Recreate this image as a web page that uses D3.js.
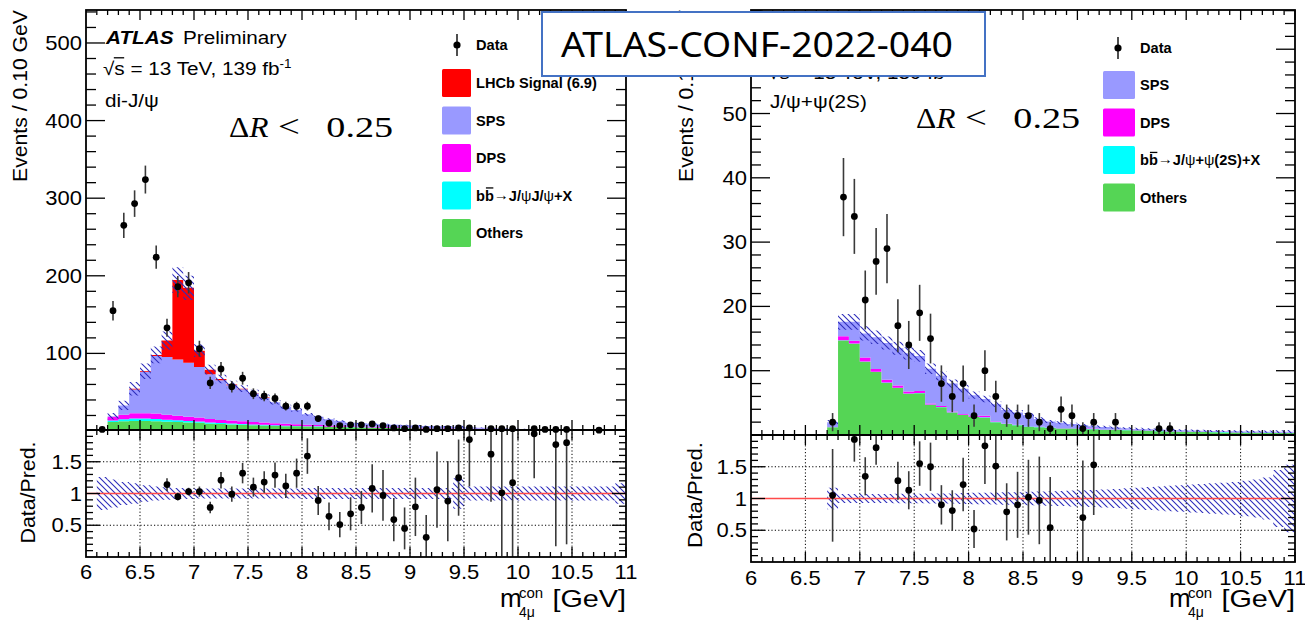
<!DOCTYPE html>
<html>
<head>
<meta charset="utf-8">
<script src="https://cdn.jsdelivr.net/npm/d3@7"></script>
<style>
  body { margin: 0; background: #fff; }
  svg { display: block; }
  text { font-family: "Liberation Sans", Arial, sans-serif; fill: #000; white-space: pre; }
</style>
</head>
<body>
<svg id="chart" width="1305" height="621"></svg>
<script>
// ---- di-J/psi (left) : MC stack, 0.1 GeV bins starting at 6.1 ----
const leftStart = 6.1;
const leftOthers = [0.3, 11.5, 12.5, 13, 13, 12.5, 12, 11.5, 11, 10.5, 9.5, 9, 8.5, 8, 7.5, 7, 6.5, 6.2, 6, 5.7, 5.5, 5.2, 5, 4.8, 4.5, 4.2, 4, 3.8, 3.6, 3.4, 3.2, 3, 2.9, 2.8, 2.7, 2.6, 2.5, 2.3, 2.1, 1.9, 1.7, 1.6, 1.5, 1.4, 1.3, 1.2, 1.15, 1.1, 1.05];
const leftBB = [0, 2, 2.5, 3, 3, 3, 2.5, 2.2, 2, 1.8, 1.5, 1.3, 1.2, 1, 1, 0.9, 0.8, 0.7, 0.6, 0.5, 0.5, 0.4, 0.4, 0.3, 0.3, 0.3, 0.2, 0.2, 0.2, 0.2, 0.1, 0.1, 0.1, 0.1, 0.1, 0.1, 0.1, 0.1, 0.1, 0.1, 0.1, 0.1, 0.1, 0.1, 0.1, 0.1, 0.1, 0.1, 0.1];
const leftDPS = [0, 5, 6, 7, 7, 7, 6.5, 6, 5.5, 5, 4.5, 4, 3.8, 3.5, 3.2, 3, 2.7, 2.5, 2.2, 2, 1.7, 1.5, 1.3, 1.1, 1, 0.9, 0.8, 0.7, 0.6, 0.6, 0.5, 0.5, 0.4, 0.4, 0.4, 0.3, 0.3, 0.3, 0.3, 0.3, 0.2, 0.2, 0.2, 0.2, 0.2, 0.2, 0.2, 0.2, 0.2];
const leftSPS = [0.2, 0.5, 12, 30.5, 53, 74, 74.5, 72.3, 69.5, 65.2, 57.5, 51.2, 45.5, 41.2, 36.9, 32.1, 27, 21.9, 18.2, 13.3, 10.8, 7.9, 6.2, 4.5, 4.1, 3.8, 3.6, 3.3, 3.1, 2.8, 2.8, 2.6, 2.4, 2.1, 1.3, 1.1, 0.8, 0.6, 0.5, 0.4, 0.4, 0.3, 0.2, 0.2, 0.2, 0.2, 0.15, 0.15, 0.15];
const leftSignal = [0, 0, 0, 0.8, 1, 1.5, 21, 102.5, 96.5, 21, 6, 1.5, 1, 0.8, 0.5, 0.5, 0, 0, 0, 0, 0, 0, 0, 0, 0, 0, 0, 0, 0, 0, 0, 0, 0, 0, 0, 0, 0, 0, 0, 0, 0, 0, 0, 0, 0, 0, 0, 0, 0];
const leftBand = [0.26, 0.22, 0.18, 0.16, 0.13, 0.11, 0.1, 0.085, 0.085, 0.08, 0.08, 0.08, 0.08, 0.08, 0.08, 0.08, 0.08, 0.08, 0.08, 0.085, 0.085, 0.085, 0.085, 0.085, 0.085, 0.085, 0.085, 0.085, 0.085, 0.085, 0.085, 0.085, 0.085, 0.24, 0.11, 0.11, 0.11, 0.11, 0.11, 0.11, 0.11, 0.11, 0.11, 0.11, 0.11, 0.11, 0.11, 0.11, 0.16];

const leftMass = [6.15, 6.25, 6.35, 6.45, 6.55, 6.65, 6.75, 6.85, 6.95, 7.05, 7.15, 7.25, 7.35, 7.45, 7.55, 7.65, 7.75, 7.85, 7.95, 8.05, 8.15, 8.25, 8.35, 8.45, 8.55, 8.65, 8.75, 8.85, 8.95, 9.05, 9.15, 9.25, 9.35, 9.45, 9.55, 9.75, 9.85, 9.95, 10.15, 10.25, 10.35, 10.45, 10.75];
const leftCounts = [2, 155, 265, 293, 324, 224, 133, 186, 191, 106, 62, 80, 57, 68, 48, 45, 42, 32, 32, 32, 16, 10, 7, 8, 8, 9, 7, 4, 3, 4, 2, 3, 3, 4, 4, 3, 3, 3, 3, 2, 2, 2, 1];

const leftRatioMass = [6.75, 6.85, 6.95, 7.05, 7.15, 7.25, 7.35, 7.45, 7.55, 7.65, 7.75, 7.85, 7.95, 8.05, 8.15, 8.25, 8.35, 8.45, 8.55, 8.65, 8.75, 8.85, 8.95, 9.05, 9.15, 9.25, 9.35, 9.45, 9.55, 9.75, 9.85, 9.95, 10.15, 10.35, 10.45];
const leftRatioVal = [1.14, 0.95, 1.03, 1.03, 0.78, 1.21, 0.99, 1.32, 1.10, 1.18, 1.29, 1.12, 1.32, 1.59, 0.89, 0.64, 0.51, 0.68, 0.78, 1.08, 0.97, 0.59, 0.45, 0.79, 0.31, 1.06, 0.88, 1.25, 1.85, 1.62, 1.01, 1.17, 1.94, 1.77, 1.80];
const leftRatioErr = [0.1, 0.06, 0.06, 0.08, 0.09, 0.13, 0.12, 0.16, 0.15, 0.17, 0.2, 0.19, 0.23, 0.28, 0.23, 0.22, 0.2, 0.26, 0.26, 0.38, 0.4, 0.34, 0.33, 0.46, 0.35, 0.6, 0.63, 0.6, 0.74, 0.75, 1.0, 1.2, 0.7, 1.6, 1.6];

// ---- J/psi + psi(2S) (right) : MC stack starting at 6.7 ----
const rightStart = 6.7;
const rightOthers = [1.2, 14.7, 14.2, 11.4, 9.8, 8.1, 7.3, 6.4, 6.5, 4.7, 4.3, 3.5, 3.1, 2.8, 2.7, 2.0, 1.7, 1.5, 1.3, 1.2, 1.1, 1.0, 1.0, 0.9, 0.9, 0.8, 0.8, 0.75, 0.7, 0.65, 0.6, 0.55, 0.5, 0.5, 0.45, 0.42, 0.4, 0.38, 0.36, 0.34, 0.32, 0.3, 0.3];
const rightBB = [0, 0.05, 0.05, 0.05, 0.05, 0.05, 0.05, 0.05, 0.05, 0.05, 0.05, 0.05, 0.05, 0.05, 0.05, 0.05, 0.05, 0.05, 0.05, 0.05, 0.05, 0.05, 0.05, 0.05, 0.05, 0.05, 0.05, 0.05, 0.05, 0.05, 0.05, 0.05, 0.05, 0.05, 0.05, 0.05, 0.05, 0.05, 0.05, 0.05, 0.05, 0.05, 0.05];
const rightDPS = [0, 0.6, 0.4, 0.6, 0.4, 0.45, 0.35, 0.3, 0.3, 0.15, 0.15, 0.1, 0.1, 0.15, 0.25, 0.1, 0.05, 0.05, 0.05, 0.05, 0.05, 0.05, 0.05, 0.05, 0.05, 0.05, 0.05, 0.05, 0.05, 0.05, 0.05, 0.05, 0.05, 0.05, 0.05, 0.05, 0.05, 0.05, 0.05, 0.05, 0.05, 0.05, 0.05];
const rightSPS = [0.8, 2.25, 2.95, 3.75, 4.95, 5.7, 5.8, 5.95, 5.45, 5.4, 4.7, 4.35, 3.95, 3.2, 2.6, 2.65, 2.1, 1.9, 1.7, 1.2, 0.9, 0.8, 0.6, 0.5, 0.35, 0.35, 0.25, 0.2, 0.15, 0.15, 0.15, 0.15, 0.15, 0.1, 0.1, 0.1, 0.1, 0.1, 0.1, 0.1, 0.1, 0.1, 0.1];
const rightBand = [0.17, 0.07, 0.07, 0.07, 0.07, 0.07, 0.075, 0.075, 0.075, 0.08, 0.08, 0.08, 0.085, 0.09, 0.09, 0.095, 0.1, 0.1, 0.105, 0.11, 0.115, 0.12, 0.125, 0.13, 0.135, 0.14, 0.15, 0.16, 0.17, 0.18, 0.19, 0.2, 0.21, 0.22, 0.23, 0.24, 0.25, 0.26, 0.28, 0.3, 0.33, 0.45, 0.53];

const rightMass = [6.75, 6.85, 6.95, 7.05, 7.15, 7.25, 7.35, 7.45, 7.55, 7.65, 7.75, 7.85, 7.95, 8.05, 8.15, 8.25, 8.35, 8.45, 8.55, 8.65, 8.75, 8.85, 8.95, 9.05, 9.15, 9.35, 9.75, 9.85];
const rightCounts = [2, 37, 34, 21, 27, 29, 17, 14, 19, 15, 8, 6, 8, 3, 10, 6, 3, 3, 3, 2, 1, 4, 3, 1, 2, 2, 1, 1];

const rightRatioMass = [6.75, 6.95, 7.05, 7.15, 7.35, 7.45, 7.55, 7.65, 7.75, 7.85, 7.95, 8.05, 8.15, 8.25, 8.35, 8.45, 8.55, 8.65, 8.75, 9.05, 9.15];
const rightRatioVal = [1.05, 1.93, 1.35, 1.80, 1.28, 1.13, 1.55, 1.50, 0.90, 0.81, 1.22, 0.52, 1.83, 1.51, 0.79, 0.90, 1.02, 0.97, 0.54, 0.70, 1.53];
const rightRatioErr = [0.73, 0.35, 0.3, 0.27, 0.3, 0.3, 0.35, 0.38, 0.31, 0.32, 0.42, 0.3, 0.6, 0.54, 0.45, 0.52, 0.59, 0.69, 0.8, 0.9, 0.79];

const upperTicksLeft = [100, 200, 300, 400, 500];
const upperTicksRight = [10, 20, 30, 40, 50, 60];
const ratioTicks = [0.5, 1, 1.5];
const xTicks = [6, 6.5, 7, 7.5, 8, 8.5, 9, 9.5, 10, 10.5, 11];

const colors = {
  others: "#55d555",
  bb: "#00ffff",
  dps: "#ff00ff",
  sps: "#9999ff",
  signal: "#ff0000"
};

const svg = d3.select("#chart");
const defs = svg.append("defs");
defs.append("pattern")
  .attr("id", "hatch")
  .attr("patternUnits", "userSpaceOnUse")
  .attr("width", 6)
  .attr("height", 6)
  .append("path")
  .attr("d", "M-1,-1L7,7M-1,5L1,7M5,-1L7,1")
  .attr("stroke", "#2d2dbb")
  .attr("stroke-width", 1.1);

const SX = 1.1; // the picture's text is a bit wider than it is tall

function line(g, x1, y1, x2, y2, w = 1.3, color = "#000") {
  return g.append("line")
    .attr("x1", x1).attr("y1", y1).attr("x2", x2).attr("y2", y2)
    .attr("stroke", color).attr("stroke-width", w);
}

function label(g, x, y, str, opt = {}) {
  return g.append("text")
    .attr("transform", `translate(${x},${y}) scale(${opt.sx || 1},1)`)
    .attr("text-anchor", opt.anchor || "start")
    .attr("font-size", opt.size || 20)
    .attr("font-weight", opt.bold ? 700 : 400)
    .attr("font-style", opt.italic ? "italic" : "normal")
    .style("font-family", opt.family || null)
    .text(str);
}

// pieces of text placed one after another, measured as they go
function rich(parent, x, y, segs, opt = {}) {
  const g = parent.append("g").attr("transform", `translate(${x},${y}) scale(${opt.sx || 1},1)`);
  let cx = 0;
  segs.forEach((s) => {
    const size = s.size || opt.size || 15;
    const t = g.append("text")
      .attr("x", cx)
      .attr("y", s.dy || 0)
      .attr("font-size", size)
      .attr("font-weight", (s.bold !== undefined ? s.bold : opt.bold) ? 700 : 400)
      .attr("fill", s.fill || "#000")
      .text(s.t);
    const w = t.node().getComputedTextLength();
    if (s.over) {
      const oy = -size * (s.overY || 0.86);
      line(g, cx + (s.overFrom || 1), oy, cx + w - 0.5, oy, 1.3);
    }
    cx += w;
  });
  return g;
}

function drawPanel(p) {
  const g = svg.append("g");
  const x = d3.scaleLinear().domain([6, 11]).range([p.x0, p.x1]);
  const y = d3.scaleLinear().domain([0, p.yMax]).range([p.yZero, p.top]);
  const r = d3.scaleLinear().domain([0, 2]).range([p.bottom, p.mid]);

  const upId = "up" + p.id, rId = "rat" + p.id;
  defs.append("clipPath").attr("id", upId).append("rect")
    .attr("x", p.x0).attr("y", p.top).attr("width", p.x1 - p.x0).attr("height", p.mid - p.top);
  defs.append("clipPath").attr("id", rId).append("rect")
    .attr("x", p.x0).attr("y", p.mid).attr("width", p.x1 - p.x0).attr("height", p.bottom - p.mid);

  const up = g.append("g").attr("clip-path", `url(#${upId})`);
  const low = g.append("g").attr("clip-path", `url(#${rId})`);

  // stacked MC
  const keys = ["others", "bb", "dps", "sps", "signal"];
  const rows = p.others.map((v, i) => ({
    lo: +(p.start + i * 0.1).toFixed(2),
    others: v,
    bb: p.bb[i],
    dps: p.dps[i],
    sps: p.sps[i],
    signal: p.signal ? p.signal[i] : 0,
    band: p.band[i]
  }));
  rows.push(Object.assign({}, rows[rows.length - 1], { lo: 11 }));
  const series = d3.stack().keys(keys)(rows);
  const area = d3.area()
    .curve(d3.curveStepAfter)
    .x((d) => x(d.data.lo))
    .y0((d) => y(d[0]))
    .y1((d) => y(d[1]));
  up.selectAll("path.stack")
    .data(series)
    .join("path")
    .attr("class", "stack")
    .attr("fill", (d) => colors[d.key])
    .attr("d", area);

  const total = (d) => keys.reduce((s, k) => s + d[k], 0);
  up.append("path")
    .datum(rows)
    .attr("fill", "url(#hatch)")
    .attr("d", d3.area().curve(d3.curveStepAfter)
      .x((d) => x(d.lo))
      .y0((d) => y(total(d) * (1 - d.band)))
      .y1((d) => y(total(d) * (1 + d.band))));

  // ratio pad: band, grid, unity line
  low.append("path")
    .datum(rows)
    .attr("fill", "url(#hatch)")
    .attr("d", d3.area().curve(d3.curveStepAfter)
      .x((d) => x(d.lo))
      .y0((d) => r(1 - d.band))
      .y1((d) => r(1 + d.band)));
  xTicks.slice(1, -1).forEach((v) => {
    line(low, x(v), p.mid, x(v), p.bottom, 1, "#000").attr("stroke-dasharray", "1.2,2.2");
  });
  [0.5, 1.5].forEach((v) => {
    line(low, p.x0, r(v), p.x1, r(v), 1, "#000").attr("stroke-dasharray", "1.2,2.2");
  });
  line(low, p.x0, r(1), p.x1, r(1), 1.6, "#ff4a4a");

  // data points
  const pts = p.mass.map((m, i) => ({ m, n: p.counts[i] }));
  up.selectAll("line.err").data(pts).join("line")
    .attr("class", "err")
    .attr("x1", (d) => x(d.m)).attr("x2", (d) => x(d.m))
    .attr("y1", (d) => y(d.n + Math.sqrt(d.n))).attr("y2", (d) => y(Math.max(0, d.n - Math.sqrt(d.n))))
    .attr("stroke", "#3a3a3a").attr("stroke-width", 1.6);
  g.selectAll("circle.pt").data(pts).join("circle")
    .attr("class", "pt")
    .attr("cx", (d) => x(d.m)).attr("cy", (d) => y(d.n))
    .attr("r", 3.4).attr("fill", "#000");

  const rpts = p.rMass.map((m, i) => ({ m, v: p.rVal[i], e: p.rErr[i] }));
  low.selectAll("line.rerr").data(rpts).join("line")
    .attr("class", "rerr")
    .attr("x1", (d) => x(d.m)).attr("x2", (d) => x(d.m))
    .attr("y1", (d) => r(d.v + d.e)).attr("y2", (d) => r(d.v - d.e))
    .attr("stroke", "#3a3a3a").attr("stroke-width", 1.6);
  low.selectAll("circle.rpt").data(rpts).join("circle")
    .attr("class", "rpt")
    .attr("cx", (d) => x(d.m)).attr("cy", (d) => r(d.v))
    .attr("r", 3.4).attr("fill", "#000");

  // ticks
  const ax = g.append("g");
  const minorX = d3.range(61, 111).map((v) => v / 10);
  minorX.forEach((v) => {
    const major = Math.abs(v * 2 - Math.round(v * 2)) < 1e-6;
    const L = major ? 10 : 5;
    line(ax, x(v), p.top, x(v), p.top + L);
    line(ax, x(v), p.mid, x(v), p.mid - L);
    line(ax, x(v), p.mid, x(v), p.mid + L);
    line(ax, x(v), p.bottom, x(v), p.bottom - L);
  });
  d3.range(p.yMinor, p.yMax, p.yMinor).forEach((v) => {
    const major = p.yMajor.includes(Math.round(v * 100) / 100);
    const L = major ? 19 : 10;
    line(ax, p.x0, y(v), p.x0 + L, y(v));
    line(ax, p.x1, y(v), p.x1 - L, y(v));
  });
  d3.range(1, 20).map((v) => v / 10).forEach((v) => {
    const major = ratioTicks.includes(v);
    const L = major ? 14 : 7;
    line(ax, p.x0, r(v), p.x0 + L, r(v));
    line(ax, p.x1, r(v), p.x1 - L, r(v));
  });

  // frame
  g.append("rect")
    .attr("x", p.x0).attr("y", p.top)
    .attr("width", p.x1 - p.x0).attr("height", p.bottom - p.top)
    .attr("fill", "none").attr("stroke", "#000").attr("stroke-width", 1.8);
  line(g, p.x0, p.mid, p.x1, p.mid, 1.8);

  // tick labels (a label hidden under the note tag is left out)
  p.yMajor.filter((v) => v <= p.labelMax)
    .forEach((v) => label(g, p.x0 - 4, y(v) + 7, String(v), { anchor: "end", size: 20, sx: SX }));
  ratioTicks.forEach((v) => label(g, p.x0 - 4, r(v) + 7, String(v), { anchor: "end", size: 20, sx: SX }));
  xTicks.forEach((v) => label(g, x(v), p.xLabelY, String(v), { anchor: "middle", size: 20, sx: SX }));

  // axis titles
  g.append("text")
    .attr("transform", `translate(${p.evX},96) rotate(-90)`)
    .attr("text-anchor", "middle")
    .attr("font-size", 21)
    .attr("textLength", 172).attr("lengthAdjust", "spacingAndGlyphs")
    .text("Events / 0.10 GeV");
  g.append("text")
    .attr("transform", `translate(${p.dpX},${p.dpY}) rotate(-90)`)
    .attr("text-anchor", "middle")
    .attr("font-size", 21)
    .attr("textLength", p.dpLen).attr("lengthAdjust", "spacingAndGlyphs")
    .text("Data/Pred.");
  label(g, p.x1 - 126, 607, "m", { size: 26 });
  label(g, p.x1 - 107, 598, "con", { size: 15 });
  label(g, p.x1 - 107, 617, "4\u03bc", { size: 14 });
  label(g, p.x1, 607, "[GeV]", { anchor: "end", size: 24, sx: 1.2 });

  // ATLAS labels
  const tx = p.x0 + 20;
  if (p.atlas) {
    label(g, tx, 44, "ATLAS", { size: 18.5, bold: true, italic: true, sx: 1.12 });
    label(g, tx + 77, 44, "Preliminary", { size: 18.5, sx: 1.12 });
  }
  rich(g, tx - 3, p.sqrtY, [
    { t: "\u221a" },
    { t: "s", over: true, overFrom: -0.5, overY: 0.93 },
    { t: " = 13 TeV, 139 fb" },
    { t: "-1", size: 12, dy: -7 }
  ], { size: 18.5, sx: 1.12 });
  label(g, tx - 1, p.chanY, p.channel, { size: 18.5, sx: 1.12 });

  // Delta R < 0.25
  const serif = "'Liberation Serif', 'DejaVu Serif', serif";
  const t1 = g.append("text")
    .attr("transform", `translate(${p.drX},${p.drY}) scale(1.05,1)`)
    .attr("font-size", 30)
    .style("font-family", serif);
  t1.append("tspan").text("\u0394");
  t1.append("tspan").attr("font-style", "italic").text("R");
  label(g, p.drX + 49, p.drY, "<", { size: 31, sx: 1.25, family: serif });
  label(g, p.drX + 164, p.drY, "0.25", { size: 30, sx: 1.27, anchor: "end", family: serif });

  // legend
  const lg = g.append("g");
  line(lg, p.legX, p.legDataY - 11, p.legX, p.legDataY + 11, 1.6, "#222");
  lg.append("circle").attr("cx", p.legX).attr("cy", p.legDataY).attr("r", 3.6).attr("fill", "#000");
  label(lg, p.legTextX, p.legDataY + 5, "Data", { size: 14.6, bold: true });
  p.legend.forEach((e, i) => {
    const top = p.legBoxY + i * 37.5;
    lg.append("rect")
      .attr("x", p.legBoxX).attr("y", top)
      .attr("width", p.legBoxW).attr("height", 28)
      .attr("rx", 1.5)
      .attr("fill", colors[e.key]);
    if (e.segs) {
      rich(lg, p.legTextX, top + 19, e.segs, { size: 14.6, bold: true });
    } else {
      label(lg, p.legTextX, top + 19, e.text, { size: 14.6, bold: true });
    }
  });
}

const arrowSeg = { t: "\u2192", bold: false, fill: "#444", size: 15, dy: -1 };

drawPanel({
  id: "L", x0: 86, x1: 626, top: 10, mid: 430, bottom: 557,
  yZero: 431, yMax: 542.5, yMajor: upperTicksLeft, yMinor: 20, labelMax: 500,
  start: leftStart, others: leftOthers, bb: leftBB, dps: leftDPS, sps: leftSPS, signal: leftSignal, band: leftBand,
  mass: leftMass, counts: leftCounts,
  rMass: leftRatioMass, rVal: leftRatioVal, rErr: leftRatioErr,
  xLabelY: 579, evX: 26.5, dpX: 35, dpY: 492.5, dpLen: 102,
  atlas: true, sqrtY: 75, chanY: 107, channel: "di-J/\u03c8",
  drX: 229, drY: 137,
  legX: 457, legDataY: 45, legTextX: 476, legBoxX: 442, legBoxW: 29, legBoxY: 69,
  legend: [
    { key: "signal", text: "LHCb Signal (6.9)" },
    { key: "sps", text: "SPS" },
    { key: "dps", text: "DPS" },
    { key: "bb", segs: [{ t: "b" }, { t: "b", over: true }, arrowSeg, { t: "J/" }, { t: "\u03c8", bold: false }, { t: "J/" }, { t: "\u03c8", bold: false }, { t: "+X" }] },
    { key: "others", text: "Others" }
  ]
});

drawPanel({
  id: "R", x0: 751, x1: 1295, top: 10, mid: 435, bottom: 562,
  yZero: 435, yMax: 66.1, yMajor: upperTicksRight, yMinor: 2, labelMax: 50,
  start: rightStart, others: rightOthers, bb: rightBB, dps: rightDPS, sps: rightSPS, signal: null, band: rightBand,
  mass: rightMass, counts: rightCounts,
  rMass: rightRatioMass, rVal: rightRatioVal, rErr: rightRatioErr,
  xLabelY: 585, evX: 693, dpX: 701.5, dpY: 495, dpLen: 106,
  atlas: false, sqrtY: 79, chanY: 108, channel: "J/\u03c8+\u03c8(2S)",
  drX: 916, drY: 128,
  legX: 1118, legDataY: 48, legTextX: 1140, legBoxX: 1103, legBoxW: 32, legBoxY: 71,
  legend: [
    { key: "sps", text: "SPS" },
    { key: "dps", text: "DPS" },
    { key: "bb", segs: [{ t: "b" }, { t: "b", over: true }, arrowSeg, { t: "J/" }, { t: "\u03c8", bold: false }, { t: "+" }, { t: "\u03c8", bold: false }, { t: "(2S)+X" }] },
    { key: "others", text: "Others" }
  ]
});

// conference note tag laid over the top
svg.append("rect")
  .attr("x", 542).attr("y", 12).attr("width", 443).attr("height", 64)
  .attr("fill", "#fff").attr("stroke", "#4472c4").attr("stroke-width", 2);
svg.append("text")
  .attr("x", 561).attr("y", 57)
  .attr("font-size", 35)
  .style("font-family", "'Noto Sans', 'Open Sans', sans-serif")
  .attr("textLength", 392).attr("lengthAdjust", "spacingAndGlyphs")
  .text("ATLAS-CONF-2022-040");
</script>
</body>
</html>
